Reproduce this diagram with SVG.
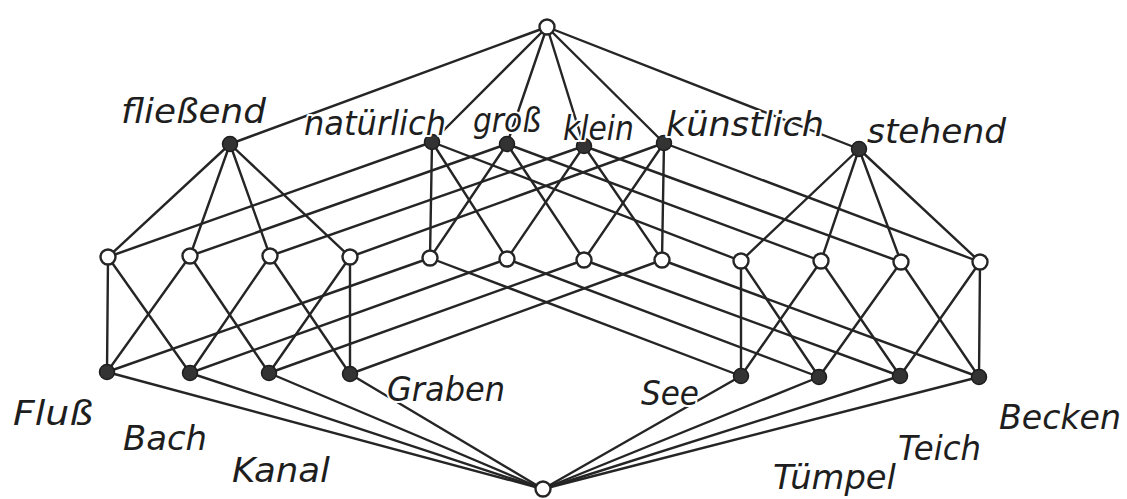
<svg xmlns="http://www.w3.org/2000/svg" width="1127" height="499" viewBox="0 0 1127 499">
<style>
.e{stroke:#252525;stroke-width:2.4;fill:none;stroke-linecap:round}
.o{fill:#fff;stroke:#252525;stroke-width:2.4}
.f{fill:#333;stroke:#1e1e1e;stroke-width:1.5}
.t{font-family:"DejaVu Sans",sans-serif;font-style:oblique;font-size:33px;fill:#1e1e1e;stroke:#fff;stroke-width:4;paint-order:stroke;stroke-linejoin:round}
</style>
<rect width="1127" height="499" fill="#fff"/>
<g id="connectors" class="e">
<line x1="547" y1="27" x2="230" y2="144"/>
<line x1="547" y1="27" x2="432" y2="142"/>
<line x1="547" y1="27" x2="507" y2="144"/>
<line x1="547" y1="27" x2="584" y2="146"/>
<line x1="547" y1="27" x2="664" y2="143"/>
<line x1="547" y1="27" x2="859" y2="149"/>
<line x1="230" y1="144" x2="108" y2="257"/>
<line x1="230" y1="144" x2="190" y2="256"/>
<line x1="230" y1="144" x2="270" y2="256"/>
<line x1="230" y1="144" x2="350" y2="257"/>
<line x1="432" y1="142" x2="108" y2="257"/>
<line x1="432" y1="142" x2="430" y2="258"/>
<line x1="432" y1="142" x2="507" y2="259"/>
<line x1="432" y1="142" x2="741" y2="261"/>
<line x1="507" y1="144" x2="190" y2="256"/>
<line x1="507" y1="144" x2="430" y2="258"/>
<line x1="507" y1="144" x2="584" y2="260"/>
<line x1="507" y1="144" x2="821" y2="261"/>
<line x1="584" y1="146" x2="270" y2="256"/>
<line x1="584" y1="146" x2="507" y2="259"/>
<line x1="584" y1="146" x2="662" y2="260"/>
<line x1="584" y1="146" x2="901" y2="262"/>
<line x1="664" y1="143" x2="350" y2="257"/>
<line x1="664" y1="143" x2="584" y2="260"/>
<line x1="664" y1="143" x2="662" y2="260"/>
<line x1="664" y1="143" x2="980" y2="262"/>
<line x1="859" y1="149" x2="741" y2="261"/>
<line x1="859" y1="149" x2="821" y2="261"/>
<line x1="859" y1="149" x2="901" y2="262"/>
<line x1="859" y1="149" x2="980" y2="262"/>
<line x1="108" y1="257" x2="107" y2="372"/>
<line x1="108" y1="257" x2="190" y2="373"/>
<line x1="190" y1="256" x2="107" y2="372"/>
<line x1="190" y1="256" x2="269" y2="373"/>
<line x1="270" y1="256" x2="190" y2="373"/>
<line x1="270" y1="256" x2="350" y2="374"/>
<line x1="350" y1="257" x2="269" y2="373"/>
<line x1="350" y1="257" x2="350" y2="374"/>
<line x1="430" y1="258" x2="107" y2="372"/>
<line x1="430" y1="258" x2="741" y2="376"/>
<line x1="507" y1="259" x2="190" y2="373"/>
<line x1="507" y1="259" x2="819" y2="377"/>
<line x1="584" y1="260" x2="269" y2="373"/>
<line x1="584" y1="260" x2="900" y2="376"/>
<line x1="662" y1="260" x2="350" y2="374"/>
<line x1="662" y1="260" x2="979" y2="377"/>
<line x1="741" y1="261" x2="741" y2="376"/>
<line x1="741" y1="261" x2="819" y2="377"/>
<line x1="821" y1="261" x2="741" y2="376"/>
<line x1="821" y1="261" x2="900" y2="376"/>
<line x1="901" y1="262" x2="819" y2="377"/>
<line x1="901" y1="262" x2="979" y2="377"/>
<line x1="980" y1="262" x2="900" y2="376"/>
<line x1="980" y1="262" x2="979" y2="377"/>
<line x1="107" y1="372" x2="543" y2="489"/>
<line x1="190" y1="373" x2="543" y2="489"/>
<line x1="269" y1="373" x2="543" y2="489"/>
<line x1="350" y1="374" x2="543" y2="489"/>
<line x1="741" y1="376" x2="543" y2="489"/>
<line x1="819" y1="377" x2="543" y2="489"/>
<line x1="900" y1="376" x2="543" y2="489"/>
<line x1="979" y1="377" x2="543" y2="489"/>
</g>
<g id="top"><circle class="o" cx="547" cy="27" r="7.5"/></g>
<g id="fliessend"><circle class="f" cx="230" cy="144" r="7.5"/><text class="t" x="121" y="123" textLength="145" lengthAdjust="spacingAndGlyphs">fließend</text></g>
<g id="natuerlich"><circle class="f" cx="432" cy="142" r="7.5"/><text class="t" x="304" y="135" textLength="142" lengthAdjust="spacingAndGlyphs">natürlich</text></g>
<g id="gross"><circle class="f" cx="507" cy="144" r="7.5"/><text class="t" x="473" y="132" textLength="68" lengthAdjust="spacingAndGlyphs">groß</text></g>
<g id="klein"><circle class="f" cx="584" cy="146" r="7.5"/><text class="t" x="563" y="140" textLength="71" lengthAdjust="spacingAndGlyphs">klein</text></g>
<g id="kuenstlich"><circle class="f" cx="664" cy="143" r="7.5"/><text class="t" x="666" y="136" textLength="158" lengthAdjust="spacingAndGlyphs">künstlich</text></g>
<g id="stehend"><circle class="f" cx="859" cy="149" r="7.5"/><text class="t" x="867" y="143" textLength="139" lengthAdjust="spacingAndGlyphs">stehend</text></g>
<g id="fl-nat"><circle class="o" cx="108" cy="257" r="7.5"/></g>
<g id="fl-gr"><circle class="o" cx="190" cy="256" r="7.5"/></g>
<g id="fl-kl"><circle class="o" cx="270" cy="256" r="7.5"/></g>
<g id="fl-kue"><circle class="o" cx="350" cy="257" r="7.5"/></g>
<g id="nat-gr"><circle class="o" cx="430" cy="258" r="7.5"/></g>
<g id="nat-kl"><circle class="o" cx="507" cy="259" r="7.5"/></g>
<g id="kue-gr"><circle class="o" cx="584" cy="260" r="7.5"/></g>
<g id="kue-kl"><circle class="o" cx="662" cy="260" r="7.5"/></g>
<g id="st-nat"><circle class="o" cx="741" cy="261" r="7.5"/></g>
<g id="st-gr"><circle class="o" cx="821" cy="261" r="7.5"/></g>
<g id="st-kl"><circle class="o" cx="901" cy="262" r="7.5"/></g>
<g id="st-kue"><circle class="o" cx="980" cy="262" r="7.5"/></g>
<g id="fluss"><circle class="f" cx="107" cy="372" r="7.5"/><text class="t" x="13" y="425" textLength="80" lengthAdjust="spacingAndGlyphs">Fluß</text></g>
<g id="bach"><circle class="f" cx="190" cy="373" r="7.5"/><text class="t" x="123" y="450" textLength="84" lengthAdjust="spacingAndGlyphs">Bach</text></g>
<g id="kanal"><circle class="f" cx="269" cy="373" r="7.5"/><text class="t" x="232" y="482" textLength="98" lengthAdjust="spacingAndGlyphs">Kanal</text></g>
<g id="graben"><circle class="f" cx="350" cy="374" r="7.5"/><text class="t" x="387" y="401" textLength="118" lengthAdjust="spacingAndGlyphs">Graben</text></g>
<g id="see"><circle class="f" cx="741" cy="376" r="7.5"/><text class="t" x="641" y="405" textLength="58" lengthAdjust="spacingAndGlyphs">See</text></g>
<g id="tuempel"><circle class="f" cx="819" cy="377" r="7.5"/><text class="t" x="773" y="489" textLength="123" lengthAdjust="spacingAndGlyphs">Tümpel</text></g>
<g id="teich"><circle class="f" cx="900" cy="376" r="7.5"/><text class="t" x="898" y="460" textLength="83" lengthAdjust="spacingAndGlyphs">Teich</text></g>
<g id="becken"><circle class="f" cx="979" cy="377" r="7.5"/><text class="t" x="999" y="429" textLength="122" lengthAdjust="spacingAndGlyphs">Becken</text></g>
<g id="bottom"><circle class="o" cx="543" cy="489" r="7.5"/></g>
</svg>
